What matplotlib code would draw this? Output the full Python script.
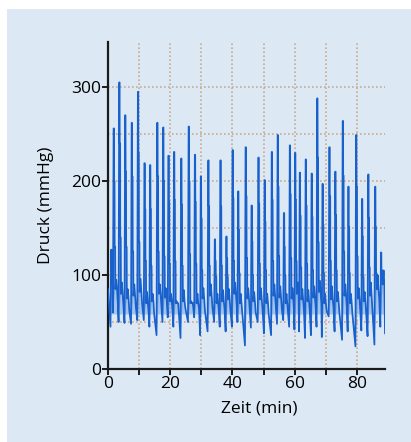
import numpy as np
import matplotlib
matplotlib.use("Agg")
import matplotlib.pyplot as plt
from matplotlib.patches import Rectangle

plt.rcParams['font.family'] = ['Open Sans', 'DejaVu Sans']

# ---- data (minutes, mmHg) ----
peak_t = [1.0, 1.8, 3.6, 5.5, 7.6, 9.6, 11.7, 13.5, 15.8, 17.7, 19.4, 21.2, 23.5, 25.9, 27.9,
          29.8, 32.2, 34.3, 36.1, 38.0, 40.0, 41.8, 44.2, 46.1, 48.3, 50.3, 52.6, 54.5, 56.5,
          58.4, 60.1, 61.6, 63.5, 65.4, 67.2, 68.9, 71.1, 73.0, 75.4, 77.2, 79.7, 81.6, 83.6,
          85.8, 87.7]
peak_v = [127, 256, 305, 270, 262, 295, 219, 217, 262, 257, 227, 231, 224, 258, 228,
          205, 222, 138, 222, 141, 233, 189, 236, 174, 225, 201, 231, 249, 166,
          238, 230, 209, 223, 208, 288, 197, 236, 210, 264, 194, 249, 181, 207,
          194, 124]
shoulder_v = [105, 200, 240, 210, 205, 230, 170, 170, 205, 200, 178, 180, 175, 200, 178,
              160, 173, 115, 173, 118, 182, 148, 184, 136, 176, 157, 180, 194, 130,
              186, 180, 163, 174, 162, 225, 154, 184, 164, 206, 151, 194, 141, 161,
              151, 105]
mid_v = [90, 130, 140, 130, 125, 135, 115, 110, 125, 120, 112, 115, 110, 122, 112,
         105, 110, 98, 110, 98, 115, 102, 118, 100, 112, 105, 115, 120, 100,
         118, 115, 108, 112, 105, 135, 102, 115, 105, 125, 102, 120, 98, 108,
         102, 95]
base1_v = [80, 85, 80, 75, 78, 82, 70, 72, 80, 76, 72, 70, 72, 70, 70,
           75, 78, 70, 72, 74, 80, 70, 75, 72, 74, 70, 78, 76, 70,
           75, 80, 74, 72, 76, 82, 70, 74, 72, 78, 70, 75, 72, 78,
           85, 90]
bump_v = [88, 95, 92, 85, 90, 96, 82, 80, 90, 86, 80, 72, 84, 72, 80,
          86, 90, 80, 84, 85, 92, 80, 86, 82, 86, 80, 90, 88, 80,
          86, 92, 85, 84, 88, 94, 80, 88, 82, 90, 80, 86, 82, 92,
          100, 105]
base2_v = [65, 70, 68, 62, 66, 70, 60, 58, 68, 64, 62, 70, 65, 70, 64,
           62, 66, 60, 64, 62, 68, 60, 62, 60, 64, 58, 66, 64, 60,
           62, 68, 62, 60, 64, 70, 62, 66, 60, 64, 58, 62, 60, 66,
           75, 80]
trough_v = [45, 60, 50, 49, 48, 52, 52, 45, 36, 50, 55, 45, 33, 50, 55,
            36, 40, 50, 45, 40, 45, 50, 25, 44, 50, 38, 36, 48, 52,
            45, 42, 40, 33, 36, 45, 34, 56, 40, 31, 40, 24, 41, 35,
            26, 45]
start_v = 85
end_t, end_v = 89.0, 38

x_ticks = [0, 10, 20, 30, 40, 50, 60, 70, 80]
x_labels = ['0', '', '20', '', '40', '', '60', '', '80']
y_ticks = [0, 100, 200, 300]
y_labels = ['0', '100', '200', '300']

# ---- build trace: stair-like spike per cycle (vertex order) ----
offsets = [(-0.2, 'trough'), (0.0, 'peak'), (0.12, 'peak'), (0.16, 'shoulder'),
           (0.3, 'shoulder'), (0.34, 'mid'), (0.5, 'mid'), (0.56, 'base1'),
           (0.85, 'bump'), (1.1, 'base1'), (1.35, 'base2')]
t_all = [0.0]
y_all = [start_v]
segments = []
for i, tp in enumerate(peak_t):
    vals = {'trough': trough_v[i], 'peak': peak_v[i], 'shoulder': shoulder_v[i],
            'mid': mid_v[i], 'base1': base1_v[i], 'bump': bump_v[i], 'base2': base2_v[i]}
    nxt = peak_t[i + 1] - 0.25 if i + 1 < len(peak_t) else end_t
    seg_t, seg_y = [], []
    for k, (off, key) in enumerate(offsets):
        tt = tp + off
        if tt < nxt and tt > t_all[-1]:
            t_all.append(tt)
            y_all.append(vals[key])
            if k <= 7:
                seg_t.append(tt)
                seg_y.append(vals[key])
    segments.append((seg_t, seg_y))
t_all.append(end_t)
y_all.append(end_v)

# ---- figure ----
W, H = 411, 442
fig = plt.figure(figsize=(W / 100, H / 100), dpi=100)
fig.patch.set_facecolor('white')
bg = '#dce9f5'
fig.patches.append(Rectangle((7 / W, 0), 1 - 7 / W, 1 - 9 / H, transform=fig.transFigure,
                             facecolor=bg, edgecolor='none', zorder=-10))

ax = fig.add_axes([108 / W, (H - 369) / H, 277 / W, 327 / H])
ax.set_zorder(5)
ax.set_facecolor(bg)
ax.set_xlim(0, 89)
ax.set_ylim(0, 348)

ta = np.array(t_all)
ya = np.array(y_all, dtype=float)
ax.fill_between(ta, ya, 58, where=ya > 58, interpolate=True,
                color='#7eaee8', alpha=0.6, lw=0, zorder=2)
for st, sy in segments:
    if len(st) > 2:
        ax.fill(st, sy, color='#6b9fe2', alpha=0.85, lw=0, zorder=2)
ax.plot(t_all, y_all, color='#1860cc', lw=1.25, zorder=3)

for gx in x_ticks[1:]:
    ax.axvline(gx, color='#c8ab92', lw=1.2, ls=(0, (1, 1.4)), zorder=1)
for gy in [50, 100, 150, 200, 250, 300]:
    ax.axhline(gy, color='#c8ab92', lw=1.2, ls=(0, (1, 1.4)), zorder=1)

for s in ['top', 'right']:
    ax.spines[s].set_visible(False)
for s in ['left', 'bottom']:
    ax.spines[s].set_linewidth(1.6)
    ax.spines[s].set_color('#1a1a1a')

ax.set_xticks(x_ticks)
ax.set_xticklabels(x_labels, fontsize=12.5)
ax.set_yticks(y_ticks)
ax.set_yticklabels(y_labels, fontsize=12.5)
ax.tick_params(axis='both', direction='out', length=4, width=1.4, color='#1a1a1a', pad=1)

ax.set_xlabel('Zeit (min)', fontsize=12.5)
ax.set_ylabel('Druck (mmHg)', fontsize=12.5)
ax.xaxis.set_label_coords(0.545, -0.095)
ax.yaxis.set_label_coords(-0.195, 0.5)

fig.savefig('out.png', dpi=100, facecolor='white')
